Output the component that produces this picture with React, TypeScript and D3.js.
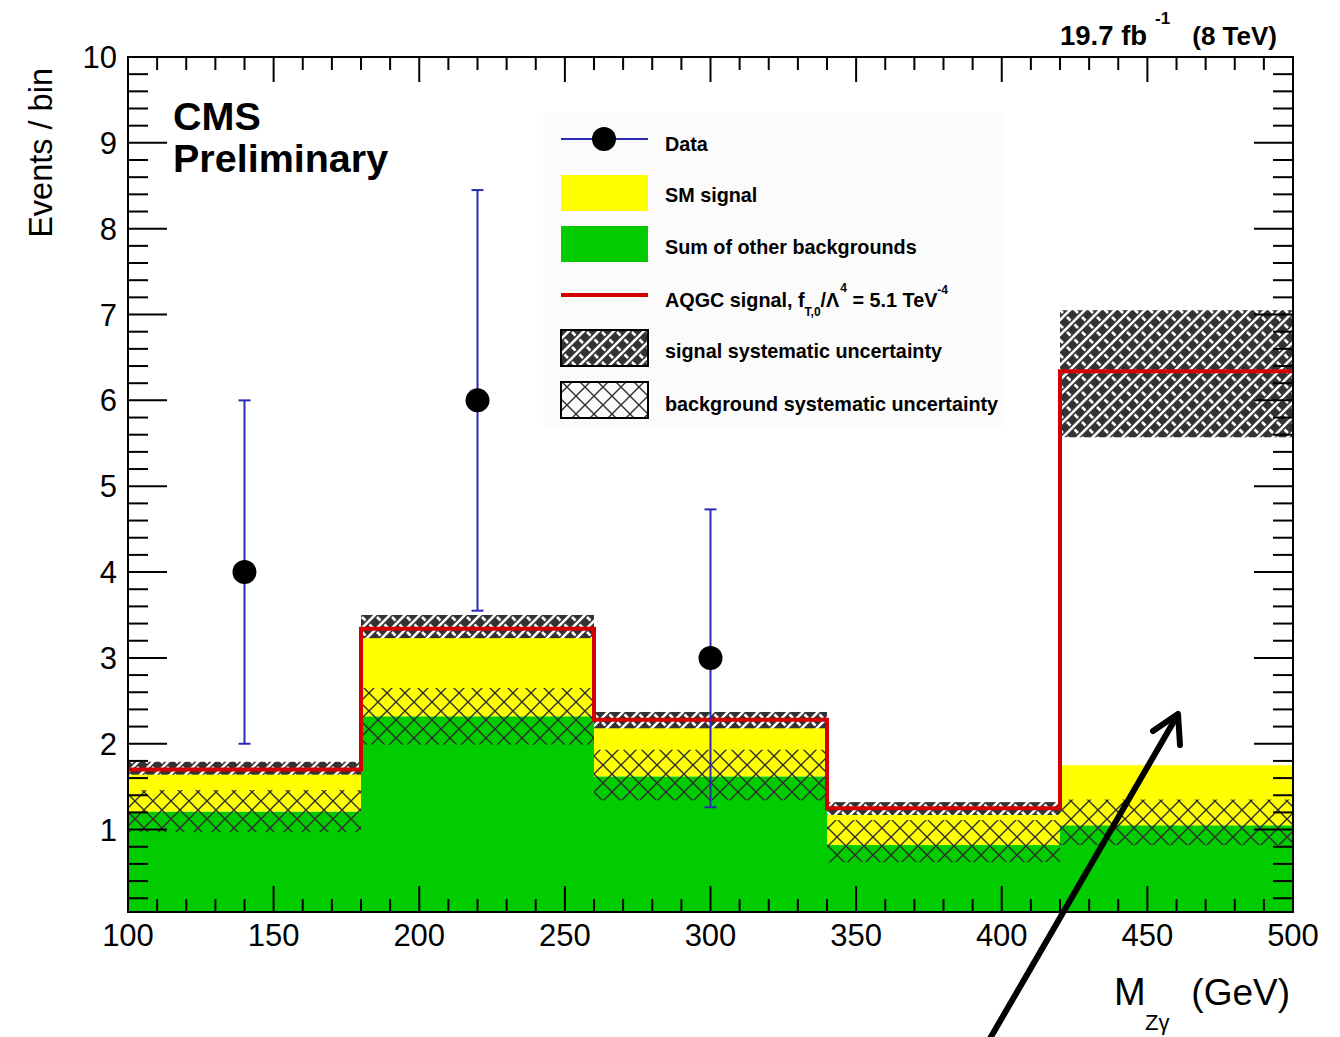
import * as d3 from 'd3';
import React from 'react';

// bin edges in M_Zgamma (GeV)
const binEdges = [100, 180, 260, 340, 420, 500];
// stacked contributions per bin
const otherBkg = [1.21, 2.32, 1.62, 0.82, 1.05];
const smSignal = [0.47, 0.99, 0.63, 0.40, 0.70];
const aqgcSignal = [1.70, 3.34, 2.28, 1.25, 6.34];
// systematic bands
const sigSystLow = [1.64, 3.23, 2.18, 1.17, 5.57];
const sigSystHigh = [1.79, 3.50, 2.37, 1.32, 7.05];
const bkgSystLow = [0.97, 1.99, 1.34, 0.62, 0.82];
const bkgSystHigh = [1.46, 2.65, 1.93, 1.11, 1.35];
// data points
const dataX = [140, 220, 300];
const dataY = [4, 6, 3];
const dataErrLow = [2.0, 3.55, 1.26];
const dataErrHigh = [6.0, 8.45, 4.73];
// axis ticks
const xTickLabels = [100, 150, 200, 250, 300, 350, 400, 450, 500];
const yTickLabels = [1, 2, 3, 4, 5, 6, 7, 8, 9, 10];

const legendItems = [
  'Data',
  'SM signal',
  'Sum of other backgrounds',
  'AQGC',
  'signal systematic uncertainty',
  'background systematic uncertainty',
];

const FONT = '"Liberation Sans", Helvetica, Arial, sans-serif';
const RED = '#d40000';
const BLUE = '#2a2ab4';
const YELLOW = '#ffff00';
const GREEN = '#00cc00';

const App = () => {
  const x = d3.scaleLinear().domain([100, 500]).range([128, 1293]);
  const y = d3.scaleLinear().domain([0.04, 10]).range([912, 57]);

  const bins = d3.range(binEdges.length - 1).map(i => ({
    x0: binEdges[i],
    x1: binEdges[i + 1],
    bkg: otherBkg[i],
    sm: otherBkg[i] + smSignal[i],
  }));

  // step line for the AQGC histogram
  let redPath = `M${x(binEdges[0])},${y(aqgcSignal[0])}`;
  bins.forEach((b, i) => {
    if (i > 0) redPath += `V${y(aqgcSignal[i])}`;
    redPath += `H${x(b.x1)}`;
  });

  const xMinor = d3.range(100, 501, 10).filter(v => v % 50 !== 0);
  const yMinor = d3.range(1, 50).map(v => v / 5).filter(v => v % 1 !== 0 && v > 0.04);

  const legX = 561, legTx = 665;
  const legRowY = [139, 193, 244, 295, 348, 400];
  const legTextY = [151, 202, 254, 307, 358, 411];

  return (
    <svg width={1340} height={1037} style={{ position: 'absolute', left: 0, top: 0, background: '#fff' }}>
      <defs>
        <pattern id="bkgHatch" patternUnits="userSpaceOnUse" width={18} height={18}>
          <path d="M0,0L18,18M18,0L0,18" stroke="#2e2e2e" strokeWidth={1.4} fill="none" />
        </pattern>
        <pattern id="sigHatch" patternUnits="userSpaceOnUse" width={15} height={15}>
          <rect width={15} height={15} fill="#333" />
          <path d="M0,15L15,0M-4,4L4,-4M11,19L19,11" stroke="#fff" strokeWidth={2.6} fill="none" />
          <path d="M2,2L5.5,5.5M9.5,9.5L13,13" stroke="#fff" strokeWidth={2.6} fill="none" />
        </pattern>
      </defs>

      {/* stacked backgrounds */}
      {bins.map((b, i) => (
        <g key={'stk' + i}>
          <rect x={x(b.x0)} y={y(b.bkg)} width={x(b.x1) - x(b.x0)} height={y(0.04) - y(b.bkg)} fill={GREEN} />
          <rect x={x(b.x0)} y={y(b.sm)} width={x(b.x1) - x(b.x0)} height={y(b.bkg) - y(b.sm)} fill={YELLOW} />
        </g>
      ))}

      {/* systematic bands */}
      {bins.map((b, i) => (
        <rect key={'bs' + i} x={x(b.x0)} y={y(bkgSystHigh[i])} width={x(b.x1) - x(b.x0)}
          height={y(bkgSystLow[i]) - y(bkgSystHigh[i])} fill="url(#bkgHatch)" />
      ))}
      {bins.map((b, i) => (
        <rect key={'ss' + i} x={x(b.x0)} y={y(sigSystHigh[i])} width={x(b.x1) - x(b.x0)}
          height={y(sigSystLow[i]) - y(sigSystHigh[i])} fill="url(#sigHatch)" />
      ))}

      {/* AQGC histogram */}
      <path d={redPath} fill="none" stroke={RED} strokeWidth={4} />

      {/* data */}
      {dataX.map((d, i) => (
        <g key={'d' + i}>
          <line x1={x(d)} x2={x(d)} y1={y(dataErrLow[i])} y2={y(dataErrHigh[i])} stroke={BLUE} strokeWidth={2} />
          <line x1={x(d) - 6} x2={x(d) + 6} y1={y(dataErrLow[i])} y2={y(dataErrLow[i])} stroke={BLUE} strokeWidth={2} />
          <line x1={x(d) - 6} x2={x(d) + 6} y1={y(dataErrHigh[i])} y2={y(dataErrHigh[i])} stroke={BLUE} strokeWidth={2} />
          <circle cx={x(d)} cy={y(dataY[i])} r={12} fill="#000" />
        </g>
      ))}

      {/* frame and ticks */}
      <rect x={128} y={57} width={1165} height={855} fill="none" stroke="#000" strokeWidth={2} />
      {xTickLabels.map(v => (
        <g key={'xt' + v}>
          <line x1={x(v)} x2={x(v)} y1={912} y2={886} stroke="#000" strokeWidth={2} />
          <line x1={x(v)} x2={x(v)} y1={57} y2={82} stroke="#000" strokeWidth={2} />
          <text x={x(v)} y={946} textAnchor="middle" fontFamily={FONT} fontSize={31}>{v}</text>
        </g>
      ))}
      {xMinor.map(v => (
        <g key={'xm' + v}>
          <line x1={x(v)} x2={x(v)} y1={912} y2={899} stroke="#000" strokeWidth={2} />
          <line x1={x(v)} x2={x(v)} y1={57} y2={70} stroke="#000" strokeWidth={2} />
        </g>
      ))}
      {yTickLabels.map(v => (
        <g key={'yt' + v}>
          <line x1={128} x2={167} y1={y(v)} y2={y(v)} stroke="#000" strokeWidth={2} />
          <line x1={1293} x2={1254} y1={y(v)} y2={y(v)} stroke="#000" strokeWidth={2} />
          <text x={117} y={y(v) + 11} textAnchor="end" fontFamily={FONT} fontSize={31}>{v}</text>
        </g>
      ))}
      {yMinor.map(v => (
        <g key={'ym' + v}>
          <line x1={128} x2={148} y1={y(v)} y2={y(v)} stroke="#000" strokeWidth={2} />
          <line x1={1293} x2={1273} y1={y(v)} y2={y(v)} stroke="#000" strokeWidth={2} />
        </g>
      ))}

      {/* axis titles */}
      <text transform="translate(52,68) rotate(-90)" textAnchor="end" fontFamily={FONT} fontSize={32.5}>Events / bin</text>
      <text x={1114} y={1005} fontFamily={FONT} fontSize={38}>M</text>
      <text x={1145} y={1030} fontFamily={FONT} fontSize={22}>Zγ</text>
      <text x={1290} y={1005} textAnchor="end" fontFamily={FONT} fontSize={37}>(GeV)</text>

      {/* labels */}
      <text x={173} y={130} fontFamily={FONT} fontWeight="bold" fontSize={39.5}>CMS</text>
      <text x={173} y={172} fontFamily={FONT} fontWeight="bold" fontSize={39.5}>Preliminary</text>
      <text x={1060} y={45} fontFamily={FONT} fontWeight="bold" fontSize={27.5}>19.7 fb</text>
      <text x={1155} y={24} fontFamily={FONT} fontWeight="bold" fontSize={17}>-1</text>
      <text x={1277} y={45} textAnchor="end" fontFamily={FONT} fontWeight="bold" fontSize={26}>(8 TeV)</text>

      {/* legend */}
      <rect x={543} y={113} width={460} height={313} fill="#fbfbfb" />
      <line x1={legX} x2={648} y1={legRowY[0]} y2={legRowY[0]} stroke={BLUE} strokeWidth={2} />
      <circle cx={604} cy={legRowY[0]} r={12} fill="#000" />
      <rect x={legX} y={legRowY[1] - 18} width={87} height={36} fill={YELLOW} />
      <rect x={legX} y={legRowY[2] - 18} width={87} height={36} fill={GREEN} />
      <line x1={legX} x2={648} y1={legRowY[3]} y2={legRowY[3]} stroke={RED} strokeWidth={4} />
      <rect x={legX} y={legRowY[4] - 18} width={87} height={36} fill="url(#sigHatch)" stroke="#000" strokeWidth={2} />
      <rect x={legX} y={legRowY[5] - 18} width={87} height={36} fill="url(#bkgHatch)" stroke="#000" strokeWidth={2} />
      {legendItems.map((t, i) => (
        t === 'AQGC' ? (
          <text key={'lg' + i} x={legTx} y={legTextY[i]} fontFamily={FONT} fontWeight="bold" fontSize={19.8}>
            AQGC signal, f
            <tspan dy={9} fontSize={12}>T,0</tspan>
            <tspan dy={-9}>/Λ</tspan>
            <tspan dx={1} dy={-15} fontSize={12}>4</tspan>
            <tspan dy={15}> = 5.1 TeV</tspan>
            <tspan dy={-13} fontSize={12}>-4</tspan>
          </text>
        ) : (
          <text key={'lg' + i} x={legTx} y={legTextY[i]} fontFamily={FONT} fontWeight="bold" fontSize={19.8}>{t}</text>
        )
      ))}

      {/* annotation arrow */}
      <line x1={988} x2={1177} y1={1042} y2={716} stroke="#000" strokeWidth={6} strokeLinecap="round" />
      <polyline points="1153,731 1178,714 1180,745" fill="none" stroke="#000" strokeWidth={6}
        strokeLinecap="round" strokeLinejoin="round" />
    </svg>
  );
};

export default App;
